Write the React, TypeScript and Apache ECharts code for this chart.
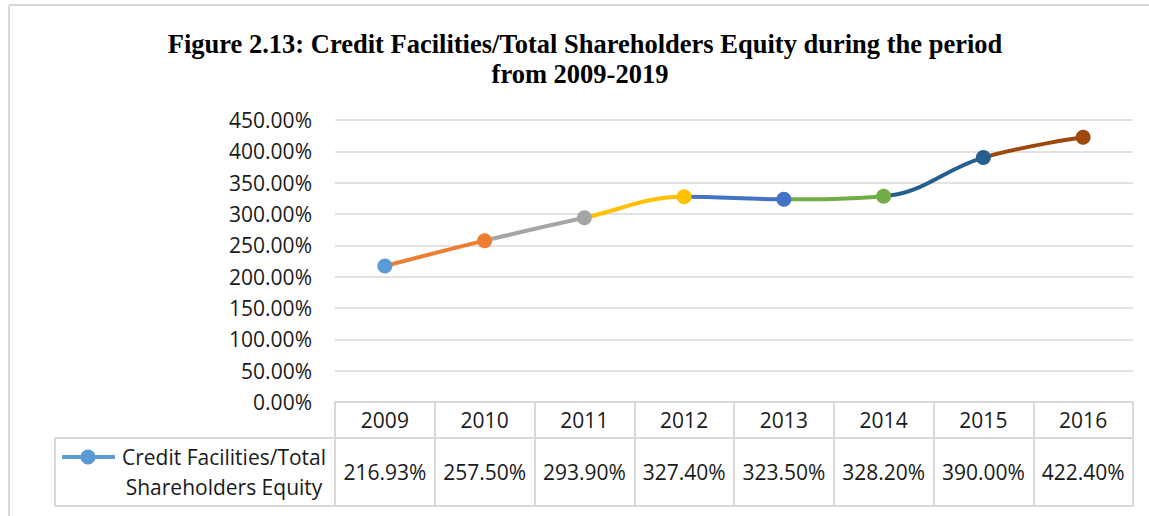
import React, { useEffect, useRef } from "react";
import * as echarts from "echarts";

const years = ["2009", "2010", "2011", "2012", "2013", "2014", "2015", "2016"];
const ratioValues = [216.93, 257.5, 293.9, 327.4, 323.5, 328.2, 390.0, 422.4];
const pointColors = ["#5B9BD5", "#ED7D31", "#A5A5A5", "#FFC000", "#4472C4", "#70AD47", "#255E91", "#9E480E"];
const yMin = 0;
const yMax = 450;
const yInterval = 50;
const seriesName = "Credit Facilities/Total Shareholders Equity";
const legendLines = ["Credit Facilities/Total", "Shareholders Equity"];
const titleLines = [
  "Figure 2.13: Credit Facilities/Total Shareholders Equity during the period",
  "from 2009-2019",
];

const W = 1149;
const H = 516;
const GRID_L = 335;
const GRID_R = 1133;
const GRID_T = 120;
const GRID_B = 402;
const ROW1_B = 438;
const ROW2_B = 506;
const LEG_L = 55;
const BORDER = "#d9d9d9";
const TEXT = "#1a1a1a";
const SANS = "'Open Sans', sans-serif";
const SERIF = "'Liberation Serif', 'Times New Roman', serif";

const pct = (v: number) => `${v.toFixed(2)}%`;

export default function App() {
  const ref = useRef<HTMLDivElement>(null);
  useEffect(() => {
    if (!ref.current) return;
    const chart = echarts.init(ref.current, undefined, { renderer: "svg" });
    const pieces = pointColors.map((c, i) =>
      i === 0 ? { lte: 0, color: c } : { gt: i - 1, lte: i, color: c }
    );
    chart.setOption({
      animation: false,
      backgroundColor: "#ffffff",
      grid: { left: GRID_L, right: W - GRID_R, top: GRID_T, bottom: H - GRID_B },
      visualMap: { show: false, type: "piecewise", dimension: 0, seriesIndex: 0, pieces },
      xAxis: [
        {
          type: "category",
          data: years,
          position: "bottom",
          boundaryGap: true,
          axisLine: { show: true, lineStyle: { color: BORDER, width: 2 } },
          axisTick: { show: true, interval: 0, length: ROW2_B - GRID_B, lineStyle: { color: BORDER, width: 2 } },
          axisLabel: { interval: 0, margin: 18, verticalAlign: "middle", fontFamily: SANS, fontSize: 21, color: TEXT },
        },
        {
          type: "category",
          data: years,
          position: "bottom",
          boundaryGap: true,
          axisLine: { show: false },
          axisTick: { show: false },
          axisLabel: {
            interval: 0,
            margin: 70,
            verticalAlign: "middle",
            fontFamily: SANS,
            fontSize: 21,
            color: TEXT,
            formatter: (_v: string, i: number) => pct(ratioValues[i]),
          },
        },
      ],
      yAxis: {
        type: "value",
        min: yMin,
        max: yMax,
        interval: yInterval,
        axisLine: { show: false },
        axisTick: { show: false },
        splitLine: { lineStyle: { color: BORDER, width: 1.5 } },
        axisLabel: { margin: 23, fontFamily: SANS, fontSize: 21, color: TEXT, formatter: (v: number) => pct(v) },
      },
      series: [
        {
          name: seriesName,
          type: "line",
          xAxisIndex: 0,
          data: ratioValues,
          smooth: 0.4,
          symbol: "circle",
          symbolSize: 15,
          lineStyle: { width: 4 },
          itemStyle: { borderWidth: 0 },
        },
      ],
      graphic: [
        { type: "line", shape: { x1: 9, y1: 5, x2: W, y2: 5 }, style: { stroke: BORDER, lineWidth: 2 } },
        { type: "line", shape: { x1: 9, y1: 5, x2: 9, y2: H }, style: { stroke: BORDER, lineWidth: 2 } },
        {
          type: "text",
          x: 585,
          y: 44,
          style: { text: titleLines[0], textAlign: "center", textVerticalAlign: "middle", fontFamily: SERIF, fontWeight: "bold", fontSize: 26.5, fill: "#000" },
        },
        {
          type: "text",
          x: 580,
          y: 74,
          style: { text: titleLines[1], textAlign: "center", textVerticalAlign: "middle", fontFamily: SERIF, fontWeight: "bold", fontSize: 26.5, fill: "#000" },
        },
        { type: "line", shape: { x1: LEG_L, y1: ROW1_B, x2: GRID_R, y2: ROW1_B }, style: { stroke: BORDER, lineWidth: 2 } },
        { type: "line", shape: { x1: LEG_L, y1: ROW2_B, x2: GRID_R + 1, y2: ROW2_B }, style: { stroke: BORDER, lineWidth: 2 } },
        { type: "line", shape: { x1: LEG_L, y1: ROW1_B, x2: LEG_L, y2: ROW2_B }, style: { stroke: BORDER, lineWidth: 2 } },
        { type: "line", shape: { x1: 62, y1: 457, x2: 115, y2: 457 }, style: { stroke: pointColors[0], lineWidth: 4 } },
        { type: "circle", shape: { cx: 88, cy: 457, r: 7.5 }, style: { fill: pointColors[0] } },
        {
          type: "text",
          x: 224,
          y: 472,
          style: { text: legendLines.join("\n"), textAlign: "center", textVerticalAlign: "middle", lineHeight: 30, fontFamily: SANS, fontSize: 21, fill: TEXT },
        },
      ],
    });
    return () => chart.dispose();
  }, []);
  return <div ref={ref} style={{ position: "absolute", left: 0, top: 0, width: W, height: H }} />;
}
